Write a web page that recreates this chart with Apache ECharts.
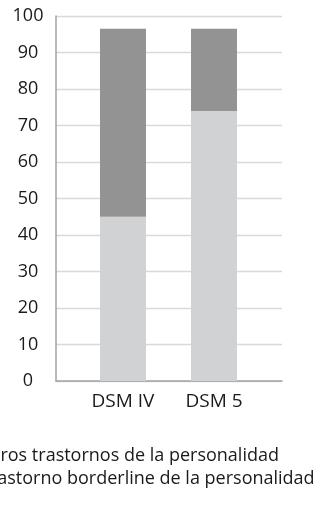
<!DOCTYPE html>
<html>
<head>
<meta charset="utf-8">
<script src="https://cdn.jsdelivr.net/npm/echarts@6/dist/echarts.min.js"></script>
<style>
  html, body { margin: 0; padding: 0; background: #fff; }
  #chart { width: 334px; height: 506px; }
</style>
</head>
<body>
<div id="chart"></div>
<script>
// Categories and stacked values (percent)
const categories = ['DSM IV', 'DSM 5'];
const borderline = [45, 74];        // Trastorno borderline de la personalidad
const otros = [51.5, 22.5];         // Otros trastornos de la personalidad
const yTicks = [0, 10, 20, 30, 40, 50, 60, 70, 80, 90, 100];

const FONT = '"Open Sans", "Noto Sans", sans-serif';
const TEXT = '#1a1a1a';

const chart = echarts.init(document.getElementById('chart'), null, { renderer: 'canvas' });

chart.setOption({
  backgroundColor: '#ffffff',
  animation: false,
  textStyle: { fontFamily: FONT, color: TEXT },
  legend: {
    orient: 'vertical',
    left: -40,
    top: 442,
    itemGap: 5,
    itemWidth: 10,
    itemHeight: 10,
    icon: 'rect',
    textStyle: { fontFamily: FONT, fontSize: 18, color: TEXT },
    data: ['Otros trastornos de la personalidad', 'Trastorno borderline de la personalidad']
  },
  grid: [
    // frame with value axis and gridlines
    { left: 56, right: 52, top: 16, bottom: 125 },
    // inner band where the bars sit
    { left: 77.5, width: 182, top: 16, bottom: 125 }
  ],
  xAxis: [
    {
      gridIndex: 0,
      type: 'category',
      data: [''],
      axisLine: { show: true, lineStyle: { color: '#a3a3a3', width: 1.5 } },
      axisTick: { show: false },
      axisLabel: { show: false }
    },
    {
      gridIndex: 1,
      type: 'category',
      data: categories,
      axisLine: { show: false },
      axisTick: { show: false },
      axisLabel: { fontFamily: FONT, fontSize: 19, color: TEXT, margin: 11 }
    }
  ],
  yAxis: [
    {
      gridIndex: 0,
      type: 'value',
      min: yTicks[0],
      max: yTicks[yTicks.length - 1],
      interval: 10,
      axisLine: { show: true, lineStyle: { color: '#a3a3a3', width: 1.5 } },
      axisTick: { show: false },
      splitLine: { show: true, lineStyle: { color: '#d9d9d9', width: 1.3 } },
      axisLabel: {
        fontFamily: FONT, fontSize: 18, color: TEXT,
        align: 'center', margin: 28
      }
    },
    {
      gridIndex: 1,
      type: 'value',
      min: yTicks[0],
      max: yTicks[yTicks.length - 1],
      show: false
    }
  ],
  series: [
    {
      name: 'Trastorno borderline de la personalidad',
      type: 'bar',
      stack: 'total',
      xAxisIndex: 1,
      yAxisIndex: 1,
      data: borderline,
      barWidth: 46,
      itemStyle: { color: '#d1d2d4' }
    },
    {
      name: 'Otros trastornos de la personalidad',
      type: 'bar',
      stack: 'total',
      xAxisIndex: 1,
      yAxisIndex: 1,
      data: otros,
      barWidth: 46,
      itemStyle: { color: '#939393' }
    }
  ]
});
</script>
</body>
</html>
